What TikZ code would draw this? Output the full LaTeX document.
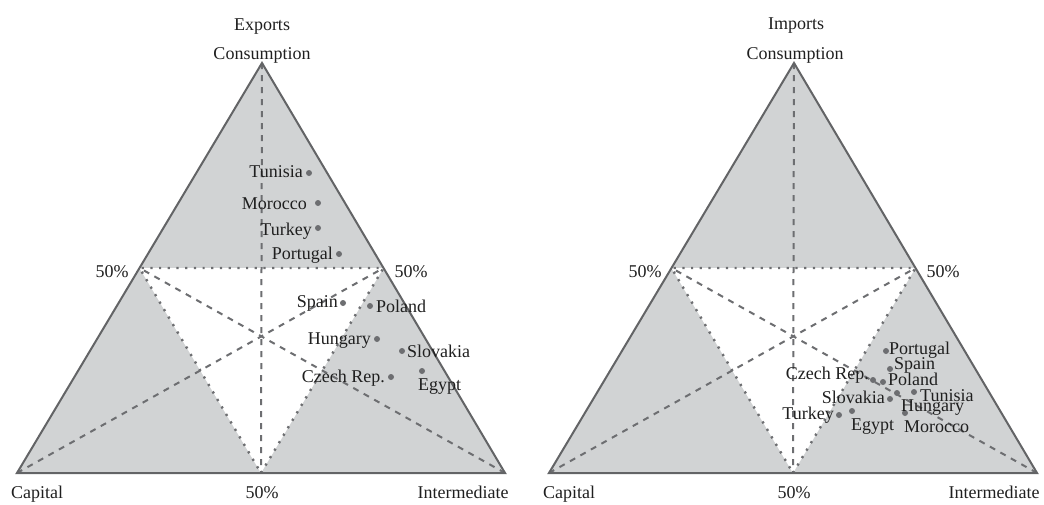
\documentclass[tikz,border=0pt]{standalone}
\usepackage{fontspec}
\setmainfont{Liberation Serif}
\definecolor{fillgray}{HTML}{D1D3D4}
\definecolor{edgegray}{HTML}{636466}
\definecolor{dashgray}{HTML}{6D6E71}
\definecolor{dotgray}{HTML}{6D6E71}
\begin{document}
\begin{tikzpicture}[x=1pt,y=-1pt,font=\fontsize{18}{21}\selectfont,
  lbl/.style={inner sep=0pt,text=black!88},
  dot/.style={circle,fill=dotgray,inner sep=0pt,minimum size=6pt},
  frame/.style={draw=edgegray,line width=2pt,line join=miter},
  median/.style={draw=dashgray,line width=2pt,dash pattern=on 6pt off 6pt},
  halfline/.style={draw=dashgray,line width=2.4pt,dash pattern=on 2.2pt off 6.5pt}]
\useasboundingbox (0,0) rectangle (1044,504);
% ---------------- Exports ----------------
\coordinate (eA) at (17,473);
\coordinate (eB) at (505,473);
\coordinate (eC) at (262,63);
\coordinate (eAB) at (261,473);
\coordinate (eBC) at (383.5,268);
\coordinate (eCA) at (139.5,268);
\fill[fillgray] (eA)--(eB)--(eC)--cycle;
\fill[white] (eAB)--(eBC)--(eCA)--cycle;
\draw[median] (eC)--(eAB);
\draw[median] (eA)--(eBC);
\draw[median] (eB)--(eCA);
\draw[halfline] (eAB)--(eBC)--(eCA)--cycle;
\draw[frame] (eA)--(eB)--(eC)--cycle;
\node[lbl,anchor=base] (eTitle) at (262,30) {Exports};
\node[lbl,anchor=base] (eCons) at (262,59) {Consumption};
\node[lbl,anchor=base] (eCap) at (37,498) {Capital};
\node[lbl,anchor=base] (eInt) at (463,498) {Intermediate};
\node[lbl,anchor=base] (eP1) at (262,498) {50\%};
\node[lbl,anchor=base] (eP2) at (112,277) {50\%};
\node[lbl,anchor=base] (eP3) at (411,277) {50\%};
\node[dot] (eTun) at (309,173) {};
\node[dot] (eMor) at (318,203) {};
\node[dot] (eTur) at (318,228) {};
\node[dot] (ePor) at (339,254) {};
\node[dot] (eSpa) at (343,303) {};
\node[dot] (ePol) at (370,306) {};
\node[dot] (eHun) at (377,339) {};
\node[dot] (eSlo) at (402,351) {};
\node[dot] (eCze) at (391,377) {};
\node[dot] (eEgy) at (422,371) {};
\node[lbl,anchor=base east] (eTunL) at (303,177) {Tunisia};
\node[lbl,anchor=base east] (eMorL) at (307,209) {Morocco};
\node[lbl,anchor=base east] (eTurL) at (312,235) {Turkey};
\node[lbl,anchor=base east] (ePorL) at (333,259) {Portugal};
\node[lbl,anchor=base east] (eSpaL) at (338,307) {Spain};
\node[lbl,anchor=base west] (ePolL) at (376,312) {Poland};
\node[lbl,anchor=base east] (eHunL) at (371,344) {Hungary};
\node[lbl,anchor=base west] (eSloL) at (407,357) {Slovakia};
\node[lbl,anchor=base east] (eCzeL) at (385,382) {Czech Rep.};
\node[lbl,anchor=base west] (eEgyL) at (418,390) {Egypt};
% ---------------- Imports ----------------
\coordinate (iA) at (549,473);
\coordinate (iB) at (1037,473);
\coordinate (iC) at (794,63);
\coordinate (iAB) at (793,473);
\coordinate (iBC) at (915.5,268);
\coordinate (iCA) at (671.5,268);
\fill[fillgray] (iA)--(iB)--(iC)--cycle;
\fill[white] (iAB)--(iBC)--(iCA)--cycle;
\draw[median] (iC)--(iAB);
\draw[median] (iA)--(iBC);
\draw[median] (iB)--(iCA);
\draw[halfline] (iAB)--(iBC)--(iCA)--cycle;
\draw[frame] (iA)--(iB)--(iC)--cycle;
\node[lbl,anchor=base] (iTitle) at (796,29) {Imports};
\node[lbl,anchor=base] (iCons) at (795,59) {Consumption};
\node[lbl,anchor=base] (iCap) at (569,498) {Capital};
\node[lbl,anchor=base] (iInt) at (994,498) {Intermediate};
\node[lbl,anchor=base] (iP1) at (794,498) {50\%};
\node[lbl,anchor=base] (iP2) at (645,277) {50\%};
\node[lbl,anchor=base] (iP3) at (943,277) {50\%};
\node[dot] (iPor) at (886,351) {};
\node[dot] (iSpa) at (890,369) {};
\node[dot] (iCze) at (873,380) {};
\node[dot] (iPol) at (883,382) {};
\node[dot] (iHun) at (897,393) {};
\node[dot] (iTun) at (914,392) {};
\node[dot] (iSlo) at (890,399) {};
\node[dot] (iMor) at (905,413) {};
\node[dot] (iTur) at (839,415) {};
\node[dot] (iEgy) at (852,411) {};
\node[lbl,anchor=base west] (iPorL) at (889,354) {Portugal};
\node[lbl,anchor=base west] (iSpaL) at (894,369) {Spain};
\node[lbl,anchor=base east] (iCzeL) at (869,379) {Czech Rep.};
\node[lbl,anchor=base west] (iPolL) at (888,385) {Poland};
\node[lbl,anchor=base east] (iSloL) at (885,403) {Slovakia};
\node[lbl,anchor=base west] (iTunL) at (920,401) {Tunisia};
\node[lbl,anchor=base west] (iHunL) at (901,411) {Hungary};
\node[lbl,anchor=base east] (iTurL) at (834,419) {Turkey};
\node[lbl,anchor=base west] (iEgyL) at (851,430) {Egypt};
\node[lbl,anchor=base west] (iMorL) at (904,432) {Morocco};
\end{tikzpicture}
\end{document}
